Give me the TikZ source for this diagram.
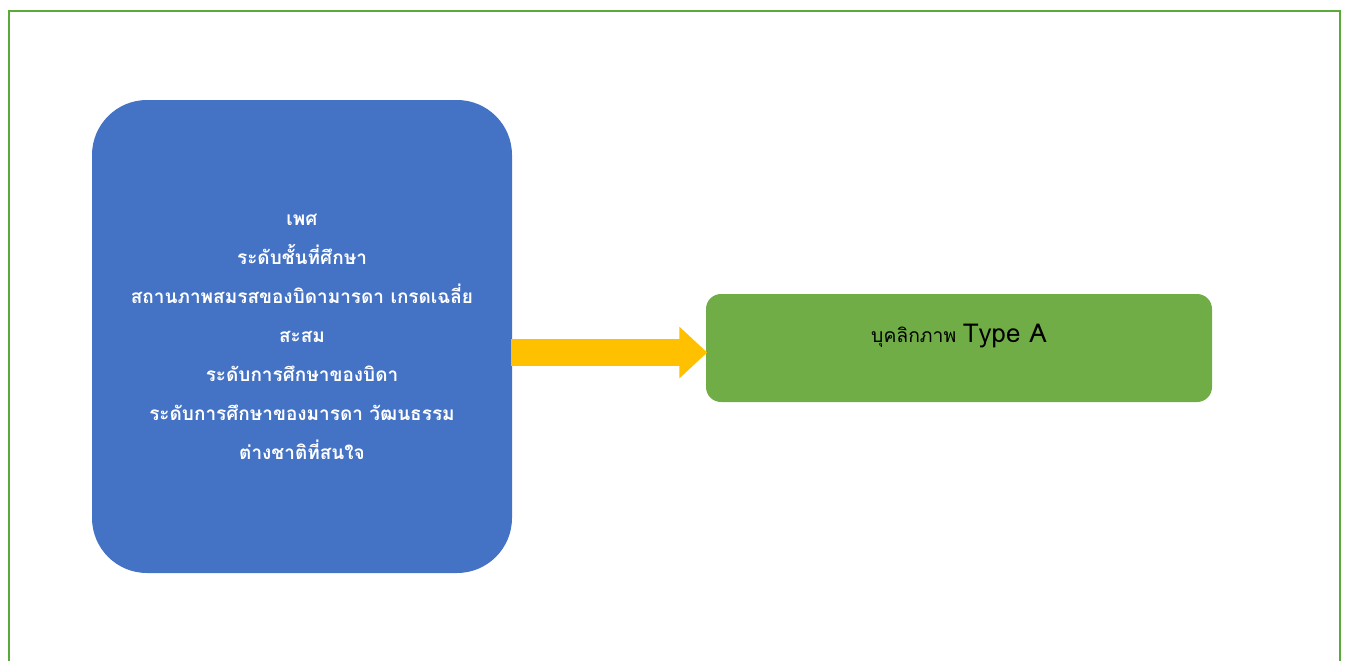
\documentclass[tikz,border=0pt]{standalone}
\usepackage{fontspec}
\usepackage{tikz}
\usetikzlibrary{arrows.meta, positioning, calc}
\newfontfamily\thaifont[Script=Thai]{Loma}
\definecolor{facblue}{HTML}{4472C4}
\definecolor{resgreen}{HTML}{70AD47}
\definecolor{framegreen}{HTML}{5AAA3A}
\definecolor{arryellow}{HTML}{FFC000}

\begin{document}
\begin{tikzpicture}[
  factorbox/.style={rectangle, fill=facblue, rounded corners=0.55cm, minimum width=4.2cm, minimum height=4.73cm, text=white, align=center, font=\thaifont\bfseries\fontsize{5.4}{11.1}\selectfont},
  resultbox/.style={rectangle, fill=resgreen, rounded corners=0.15cm, minimum width=5.06cm, minimum height=1.08cm, align=center, font=\thaifont\fontsize{5.5}{9.5}\selectfont},
  bigarr/.style={-{Triangle[length=0.28cm, width=0.5cm]}, line width=0.27cm, arryellow},
]
  \useasboundingbox (0,0) rectangle (13.48,6.60);

  % Frame
  \draw[framegreen, line width=0.8pt] (0.09,-0.2) -- (0.09,6.49) -- (13.40,6.49) -- (13.40,-0.2);

  % Left: factors
  \node[factorbox] (factors) at (3.02,3.235) {เพศ\\ระดับชั้นที่ศึกษา\\สถานภาพสมรสของบิดามารดา เกรดเฉลี่ย\\สะสม\\ระดับการศึกษาของบิดา\\ระดับการศึกษาของมารดา วัฒนธรรม\\ต่างชาติที่สนใจ};

  % Right: result
  \node[resultbox] (result) at (9.59,3.12) {บุคลิกภาพ {\fontsize{7.4}{9.5}\selectfont Type A}\\[-0.14cm]\strut};

  % Arrow
  \draw[bigarr, shorten <=-0.02cm, shorten >=-0.02cm] ([yshift=-0.045cm]result.west -| factors.east) -- ([yshift=-0.045cm]result.west);
\end{tikzpicture}
\end{document}
